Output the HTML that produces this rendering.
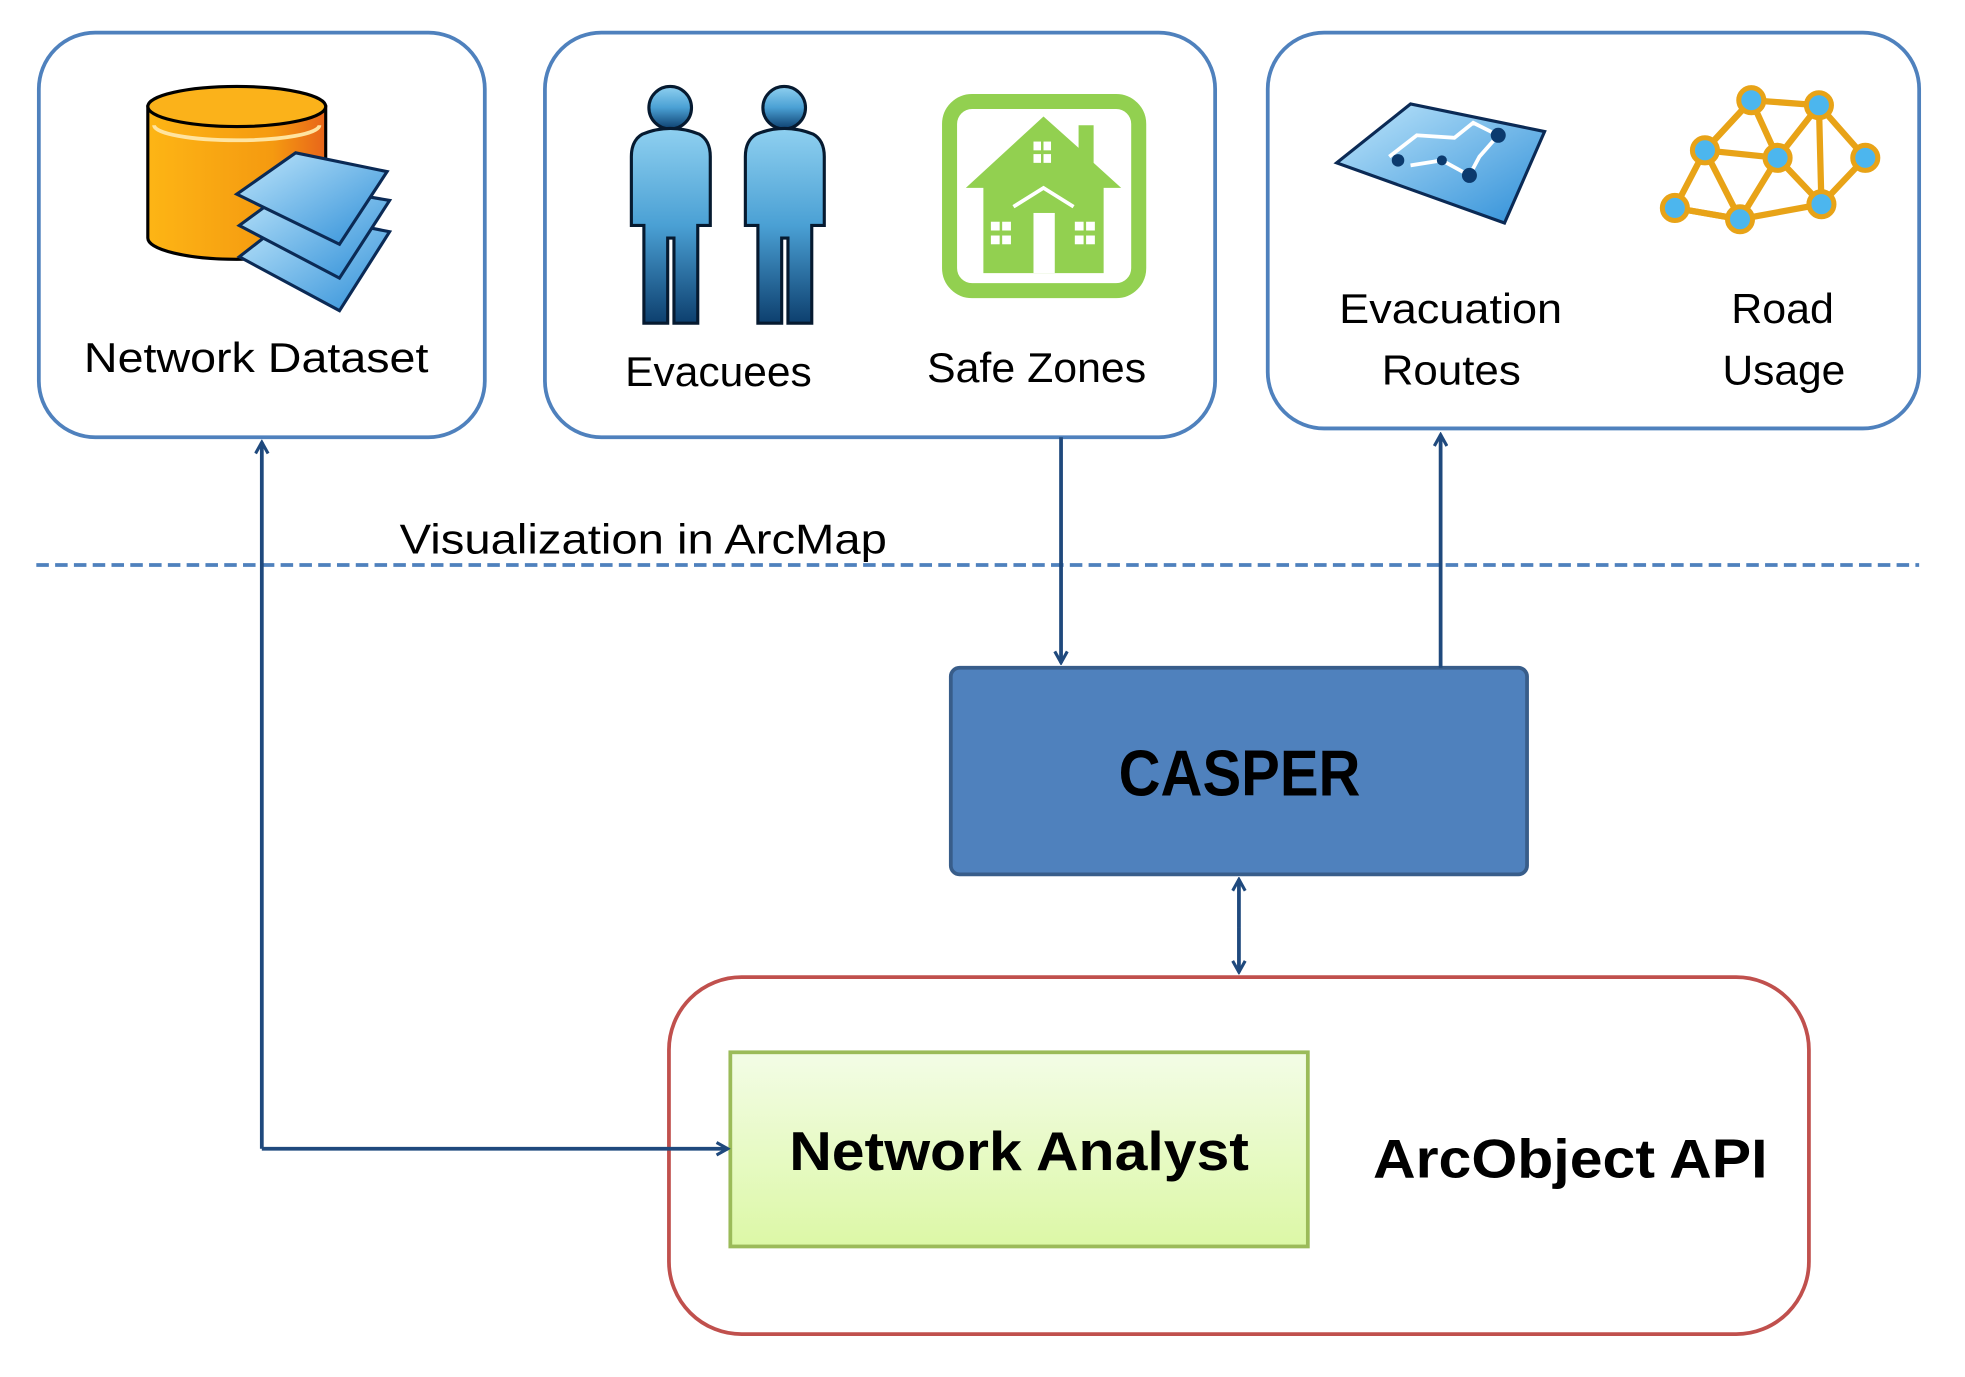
<!DOCTYPE html>
<html><head><meta charset="utf-8"><style>
html,body{margin:0;padding:0;background:#fff;width:1965px;height:1377px;overflow:hidden}
svg{display:block}
text{font-family:"Liberation Sans",sans-serif;fill:#000}
</style></head><body>
<svg width="1965" height="1377" viewBox="-1 0 1568.6 1099.2" preserveAspectRatio="none" xmlns="http://www.w3.org/2000/svg">
<defs>
<linearGradient id="cyl" x1="0" x2="1"><stop offset="0" stop-color="#fdb515"/><stop offset="0.7" stop-color="#f59a10"/><stop offset="1" stop-color="#e8651a"/></linearGradient>
<linearGradient id="lay" x1="0" y1="0" x2="1" y2="1"><stop offset="0" stop-color="#bfe6fb"/><stop offset="1" stop-color="#2f8fd8"/></linearGradient>
<linearGradient id="man" x1="0" y1="0" x2="0" y2="1"><stop offset="0" stop-color="#8fd0f0"/><stop offset="0.5" stop-color="#4aa0d4"/><stop offset="1" stop-color="#0d3f6e"/></linearGradient>
<linearGradient id="na" x1="0" y1="0" x2="0" y2="1"><stop offset="0" stop-color="#f3fce6"/><stop offset="1" stop-color="#dcf8a6"/></linearGradient>
<marker id="ah" markerWidth="12" markerHeight="12" refX="10" refY="6" orient="auto" markerUnits="userSpaceOnUse"><path d="M1,1 L10,6 L1,11" fill="none" stroke="#1f497d" stroke-width="2.5"/></marker>
</defs>

<rect x="30" y="26" width="356" height="323" rx="45" fill="#fff" stroke="#4f81bd" stroke-width="3"/>
<rect x="434" y="26" width="535" height="323" rx="45" fill="#fff" stroke="#4f81bd" stroke-width="3"/>
<rect x="1011" y="26" width="520" height="316" rx="45" fill="#fff" stroke="#4f81bd" stroke-width="3"/>

<path d="M117,85 L117,190 A71,17 0 0 0 259,190 L259,85 Z" fill="url(#cyl)" stroke="#000" stroke-width="2.5"/>
<ellipse cx="188" cy="85" rx="71" ry="16" fill="#fbb21a" stroke="#000" stroke-width="2.5"/>
<path d="M122,100 A66,12 0 0 0 254,100" fill="none" stroke="#ffe4a0" stroke-width="3"/>
<g stroke="#0b2a55" stroke-width="2.5">
<path d="M190,205 L235,170 L310,185 L270,248 Z" fill="url(#lay)"/>
<path d="M190,180 L235,147 L310,160 L270,222 Z" fill="url(#lay)"/>
<path d="M188,155 L235,122 L308,137 L270,195 Z" fill="url(#lay)"/>
</g>

<g fill="url(#man)" stroke="#061a30" stroke-width="2.5">
<circle cx="534" cy="86" r="17"/>
<path d="M512,107 Q534,98 557,107 Q566,112 566,125 L566,180 L556,180 L556,258 L537,258 L537,190 L532,190 L532,258 L513,258 L513,180 L503,180 L503,125 Q503,112 512,107 Z"/>
<circle cx="625" cy="86" r="17"/>
<path d="M603,107 Q625,98 648,107 Q657,112 657,125 L657,180 L647,180 L647,258 L628,258 L628,190 L623,190 L623,258 L604,258 L604,180 L594,180 L594,125 Q594,112 603,107 Z"/>
</g>

<rect x="757" y="81" width="151" height="151" rx="18" fill="none" stroke="#92d050" stroke-width="12"/>
<path d="M770,150 L832,93 L860,118 L860,100 L872,100 L872,130 L894,150 L880,150 L880,218 L784,218 L784,150 Z" fill="#92d050"/>
<path d="M808,165 L832,150 L856,165" fill="none" stroke="#fff" stroke-width="3"/>
<rect x="824" y="170" width="17" height="48" fill="#fff"/>
<g fill="#fff"><rect x="790" y="177" width="7" height="7"/><rect x="799" y="177" width="7" height="7"/><rect x="790" y="188" width="7" height="7"/><rect x="799" y="188" width="7" height="7"/>
<rect x="857" y="177" width="7" height="7"/><rect x="866" y="177" width="7" height="7"/><rect x="857" y="188" width="7" height="7"/><rect x="866" y="188" width="7" height="7"/>
<rect x="824" y="113" width="6" height="7"/><rect x="832" y="113" width="6" height="7"/><rect x="824" y="123" width="6" height="7"/><rect x="832" y="123" width="6" height="7"/></g>

<path d="M1066,130 L1125,83 L1232,105 L1200,178 Z" fill="url(#lay)" stroke="#0b2a55" stroke-width="2.5"/>
<path d="M1108,125 L1130,108 L1160,110 L1175,98 L1195,108 L1180,125 L1172,140 L1150,128 L1125,132" fill="none" stroke="#fff" stroke-width="3"/>
<g fill="#0b3a6e"><circle cx="1195" cy="108" r="6"/><circle cx="1172" cy="140" r="6"/><circle cx="1115" cy="128" r="5"/><circle cx="1150" cy="128" r="4"/></g>

<g stroke="#e8a317" stroke-width="5" fill="none">
<path d="M1397,80 L1451,84 L1488,126 L1453,163 L1388,175 L1336,166 L1360,120 Z"/>
<path d="M1397,80 L1360,120 L1418,126 L1451,84 L1453,163 M1360,120 L1388,175 L1418,126 L1397,80 M1418,126 L1453,163 M1336,166 L1388,175"/>
</g>
<g fill="#4cb6ee" stroke="#e8a317" stroke-width="4">
<circle cx="1397" cy="80" r="10"/><circle cx="1451" cy="84" r="10"/><circle cx="1488" cy="126" r="10"/><circle cx="1453" cy="163" r="10"/><circle cx="1388" cy="175" r="10"/><circle cx="1336" cy="166" r="10"/><circle cx="1360" cy="120" r="10"/><circle cx="1418" cy="126" r="10"/>
</g>

<g font-size="33">
<text x="66" y="297" textLength="275" lengthAdjust="spacingAndGlyphs">Network Dataset</text>
<text x="498" y="308" textLength="149" lengthAdjust="spacingAndGlyphs">Evacuees</text>
<text x="739" y="305" textLength="175" lengthAdjust="spacingAndGlyphs">Safe Zones</text>
<text x="1068" y="258" textLength="178" lengthAdjust="spacingAndGlyphs">Evacuation</text>
<text x="1102" y="307" textLength="111" lengthAdjust="spacingAndGlyphs">Routes</text>
<text x="1381" y="258" textLength="82" lengthAdjust="spacingAndGlyphs">Road</text>
<text x="1374" y="307" textLength="98" lengthAdjust="spacingAndGlyphs">Usage</text>
<text x="318" y="442" textLength="389" lengthAdjust="spacingAndGlyphs">Visualization in ArcMap</text>
</g>

<line x1="28" y1="451" x2="1531" y2="451" stroke="#4f81bd" stroke-width="3" stroke-dasharray="10,5"/>

<rect x="758" y="533" width="460" height="165" rx="7" fill="#4f81bd" stroke="#385d8a" stroke-width="3"/>
<text x="892" y="635" font-size="52" font-weight="bold" textLength="193" lengthAdjust="spacingAndGlyphs">CASPER</text>

<rect x="533" y="780" width="910" height="285" rx="58" fill="#fff" stroke="#c0504d" stroke-width="3"/>
<rect x="582" y="840" width="461" height="155" fill="url(#na)" stroke="#9bbb59" stroke-width="3"/>
<text x="629" y="934" font-size="44" font-weight="bold" textLength="367" lengthAdjust="spacingAndGlyphs">Network Analyst</text>
<text x="1095" y="940" font-size="44" font-weight="bold" textLength="315" lengthAdjust="spacingAndGlyphs">ArcObject API</text>

<g stroke="#1f497d" stroke-width="3" fill="none">
<path d="M208,917 L208,353" marker-end="url(#ah)"/>
<path d="M208,917 L580,917" marker-end="url(#ah)"/>
<path d="M846,349 L846,529" marker-end="url(#ah)"/>
<path d="M1149,533 L1149,347" marker-end="url(#ah)"/>
<path d="M988,740 L988,776" marker-end="url(#ah)"/>
<path d="M988,740 L988,702" marker-end="url(#ah)"/>
</g>
</svg>
</body></html>
